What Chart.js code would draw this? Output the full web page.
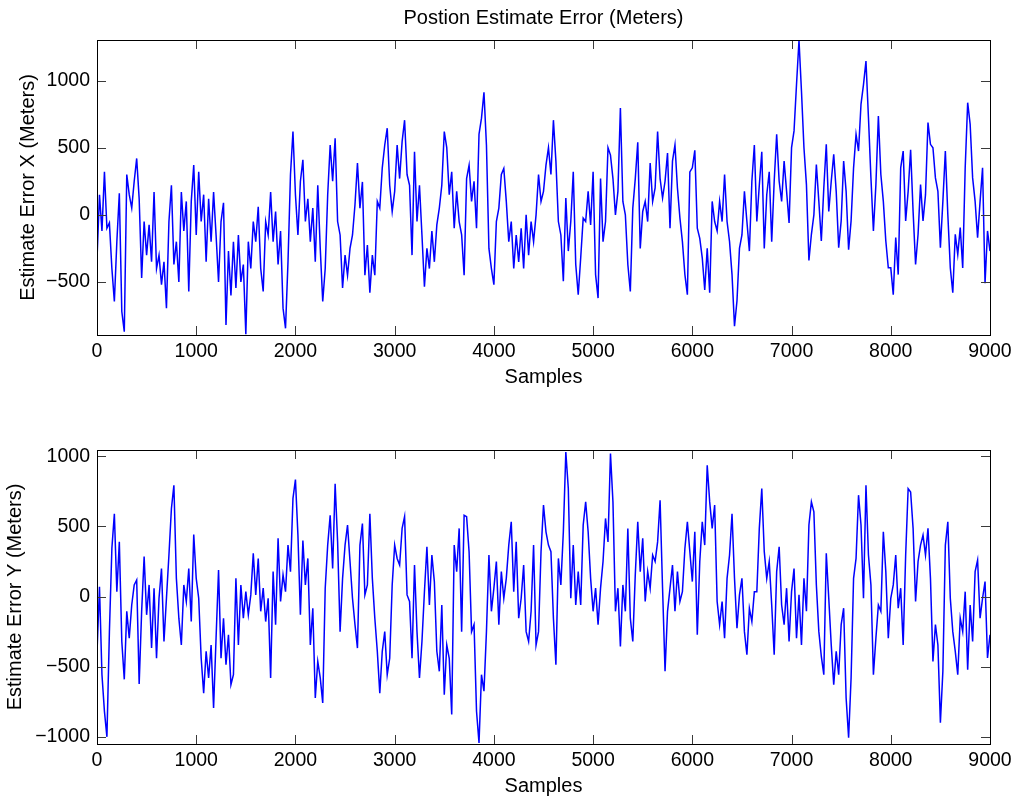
<!DOCTYPE html>
<html>
<head>
<meta charset="utf-8">
<title>Postion Estimate Error (Meters)</title>
<script src="https://cdn.jsdelivr.net/npm/chart.js@4.4.1/dist/chart.umd.min.js"></script>
<style>
  html, body { margin: 0; padding: 0; background: #ffffff; }
  #page { position: relative; width: 1019px; height: 796px; overflow: hidden; }
  .panel { position: absolute; left: 0; }
  #panelX { top: 0; }
  #panelY { top: 400px; }
</style>
</head>
<body>
<div id="page">
  <div class="panel" id="panelX"><canvas id="chartX" width="1019" height="400"></canvas></div>
  <div class="panel" id="panelY"><canvas id="chartY" width="1019" height="396"></canvas></div>
</div>
<script>
// Samples are recorded every SAMPLE_STEP steps along the run.
const SAMPLE_STEP = 25;
const sampleTicks = [0, 1000, 2000, 3000, 4000, 5000, 6000, 7000, 8000, 9000];
const errXTicks = [-500, 0, 500, 1000];
const errYTicks = [-1000, -500, 0, 500, 1000];

// Position estimate error along X (meters), one value per SAMPLE_STEP samples.
const errX = [
  -330, 150, -120, 320, -100, -60, -400, -645, -200, 160,
  -720, -870, 300, 150, 50, 250, 420, 120, -470, -50,
  -300, -75, -350, 170, -400, -300, -520, -350, -695, -50,
  220, -370, -200, -500, 170, -120, 100, -570, 100, 370,
  -150, 320, -50, 150, -350, 120, -200, 170, -150, -500,
  -50, 90, -820, -270, -600, -200, -545, -150, -500, -370,
  -890, -200, -400, -50, -200, 60, -400, -570, -50, -150,
  170, -200, 25, -370, -120, -695, -845, -350, 300, 620,
  150, -150, 250, 410, -50, 120, -200, 50, -350, 220, -250, -645, -400,
  150, 520, 250, 570, -50, -150, -545, -300, -450, -250,
  -150, 75, 385, 50, 245, -450, -225, -580, -300, -450,
  100, 50, 350, 520, 645, 220, 25,
  175, 520, 270, 545, 705, 300, 220, -300, 470, -50,
  220, -150, -535, -250, -400, -120, -350, -75, 50, 220,
  620, 500, 150, 320, -100, 175, -50, -150, -450, 270,
  370, 100, 250, -100, 600, 720, 913, 520, -250, -400,
  -520, -50, 50, 300, 345, 100, -200, -50, -400, -150,
  -350, -100, -400, 0, -300, -50, -200, 0, 300, 100,
  175, 370, 500,
  300, 705, 400, -50, -150, -495, 125, -270, -50, 320,
  -370, -595, -320, -25, -50, 175, -75,
  320, -445, -620, 270, -200, -50, 500, 445, 270, 0,
  175, 795, 100, 0, -370, -570, 50, 270, 540, -250,
  25, 100, -50, 385, 100, 200, 620, 270, 125, 250,
  460, -100, 400, 520, 200, -25, -200, -445, -595, 320,
  350, 480, -100, -175, -320, -560, -250, -580, 100, -50,
  -120, 100, -50, 300, -50, -200, -445, -830, -640, -250,
  -150, 175, -50, -270, 250, 520, -50, 220, 470, -250,
  150, 320, -200, 250,
  600, 250, 100, 400, 175, -60,
  500, 625, 970, 1300, 920, 500, 225, -340, -145, 0,
  375, 100, -195, 200, 525, 25, 250, 450, 175, -245,
  -45, 400, 175, -260, -45, 350, 600, 475, 825, 970,
  1145, 725, 275, -120, 225, 735, 300, 100, -195, -395,
  -395, -595, -170, -445, 350, 475, -45, 175, 485, 25,
  -370, -145, 225, -45, 150, 687, 525, 500, 275, 175,
  -245, 100, 475, 0, -395, -580, -145, -295, -95, -395,
  350, 835, 675, 275, 100, -170, 100, 350, -510, -120,
  -270
];

// Position estimate error along Y (meters), one value per SAMPLE_STEP samples.
const errY = [
  -400, 70, -557, -818, -1000, -250, 345, 590, 35, 390,
  -320, -590, -105, -296, -60, 83, 118, -623, -105, 285,
  -130, 83, -367, 60, -440, -12, 200, -320, -12, 296,
  628, 794, 130, -154, -345, 83, -35, 200, -178, 443,
  130, -12, -440, -688, -390, -580, -345, -794, -296, 190,
  -440, -154, -485, -272, -628, -557, 130, -345, 83, -154,
  35, -130, 12, 308, 12, 272, -105, 60, -178, -12,
  -580, 178, -200, 415, -35, 155, 35, 367, 178, 700,
  834, 440, -130, 400, 83, 272, -345, -83, -723, -462, -580, -758, 60,
  367, 580, 200, 805, 390, -250, 130, 367, 510, 250,
  -12, -200, -367, 367, 520, 12, 83, 590, 130, -154,
  -390, -688, -390, -250, -557, -440, 83,
  367, 272, 225, 486, 570, 12, -35, -440, 225, -250,
  -580, -320, 35, 355, -60, 296, 107, -390, -533, -60,
  -700, -345, -440, -840, 367, 178, 486, -250, 580, 570,
  320, -250, -200, -818, -1043, -557, -675, -250, 296, -105,
  60, 250, -200, 178, -12, 130, 367, 533, 35, 390,
  -154, -12, 225, -250, -320, -105, 367, -345, -250, 320,
  652, 462, 367,
  320, -154, -486, 272, 83, 462, 1030, 770, -12, 367,
  -60, 178, -60, 510, 675, 462, 130,
  -105, 60, -200, 60, 250, 557, 390, 1020, 675, -105,
  60, -355, 83, -105, 486, -154, -320, 155, 533, 178,
  415, -35, 178, 60, 296, 250, 390, 687, 60, -533,
  -105, 60, 225, -105, 178, -35, 35, 343, 533, 320,
  107, 462, -272, 250, 533, 367, 936, 675, 486, 652,
  -35, -200, -35, -296, 130, 296, 590, 130, -225, 12,
  130, -250, -415, -83, -178, 35, 35, 486, 770, 320,
  130, 250, -60, -415,
  178, 355, -60, -200, 60, -320,
  35, 200, -296, 12, -345, 130, -105, 510, 675, 604,
  83, -250, -427, -557, 308, -12, -345, -628, -390, -557,
  -200, -83, -723, -1007, -580, 130, 272, 723, 510, -12,
  794, 296, 83, -557, -296, -60, -105, 462, 178, -296,
  -12, 83, 296, -83, 60, -345, 296, 770, 746, 486,
  -35, 250, 367, 438, 296, 486, 130, -462, -200, -345,
  -900, -533, 367, 533, -12, -250, -390, -557, -154, -250,
  35, -521, -60, -320, 178, 260, -154, -12, 107, -438,
  -272
];

Chart.defaults.font.family = "'Liberation Sans', Arial, Helvetica, sans-serif";
Chart.defaults.color = '#000000';

const FONT_TICK = { size: 19.5, lineHeight: 1 };
const FONT_LABEL = { size: 20, lineHeight: 1 };

function signed(v) {
  return v < 0 ? '\u2212' + Math.abs(v) : String(v);
}

// Boxed axes with tick marks pointing into the plot on all four sides.
const boxAxes = {
  id: 'boxAxes',
  afterDatasetsDraw(chart) {
    const { ctx, chartArea: a, scales } = chart;
    const len = 9;
    ctx.save();
    ctx.lineWidth = 1;
    ctx.strokeStyle = '#3a3a3a';
    ctx.beginPath();
    scales.x.ticks.forEach(t => {
      const px = Math.round(scales.x.getPixelForValue(t.value)) + 0.5;
      ctx.moveTo(px, a.bottom); ctx.lineTo(px, a.bottom - len);
      ctx.moveTo(px, a.top); ctx.lineTo(px, a.top + len);
    });
    scales.y.ticks.forEach(t => {
      const py = Math.round(scales.y.getPixelForValue(t.value)) + 0.5;
      ctx.moveTo(a.left, py); ctx.lineTo(a.left + len, py);
      ctx.moveTo(a.right, py); ctx.lineTo(a.right - len, py);
    });
    ctx.stroke();
    ctx.strokeStyle = '#000000';
    ctx.strokeRect(Math.round(a.left) + 0.5, Math.round(a.top) + 0.5,
      Math.round(a.right - a.left), Math.round(a.bottom - a.top));
    ctx.restore();
  }
};

function buildPanel(canvas, values, p) {
  const points = values.map((v, i) => ({ x: i * SAMPLE_STEP, y: v }));
  return new Chart(canvas, {
    type: 'line',
    data: {
      datasets: [{
        data: points,
        borderColor: '#0000ff',
        borderWidth: 1.5,
        pointRadius: 0,
        tension: 0,
        fill: false
      }]
    },
    options: {
      responsive: false,
      animation: false,
      devicePixelRatio: 1,
      events: [],
      layout: { padding: { top: p.padTop, right: 29, bottom: 0, left: 0 } },
      plugins: {
        legend: { display: false },
        tooltip: { enabled: false },
        title: p.title ? {
          display: true,
          text: p.title,
          color: '#000000',
          fullSize: false,
          font: { size: 20, weight: 'normal', lineHeight: 1.2 },
          padding: { top: 6, bottom: 10 }
        } : { display: false }
      },
      scales: {
        x: {
          type: 'linear',
          min: 0,
          max: 9000,
          grid: { display: false, drawTicks: false },
          border: { display: false },
          afterBuildTicks: s => { s.ticks = sampleTicks.map(v => ({ value: v })); },
          afterFit: s => { s.height = p.xAxisHeight; },
          ticks: {
            autoSkip: false,
            maxRotation: 0,
            padding: 7,
            font: FONT_TICK,
            color: '#000000',
            callback: v => signed(v)
          },
          title: {
            display: true,
            text: 'Samples',
            color: '#000000',
            font: FONT_LABEL,
            padding: { top: 0, bottom: p.xTitlePad }
          }
        },
        y: {
          type: 'linear',
          min: p.yMin,
          max: p.yMax,
          grid: { display: false, drawTicks: false },
          border: { display: false },
          afterBuildTicks: s => { s.ticks = p.yTicks.map(v => ({ value: v })); },
          afterFit: s => { s.width = 97; },
          ticks: {
            autoSkip: false,
            padding: 7,
            font: FONT_TICK,
            color: '#000000',
            callback: v => signed(v)
          },
          title: {
            display: true,
            text: p.yTitle,
            color: '#000000',
            font: FONT_LABEL,
            padding: { top: p.yTitlePad, bottom: 0 }
          }
        }
      }
    },
    plugins: [boxAxes]
  });
}

buildPanel(document.getElementById('chartX'), errX, {
  title: 'Postion Estimate Error (Meters)',
  padTop: 0,
  xAxisHeight: 65,
  xTitlePad: 13,
  yMin: -895,
  yMax: 1302,
  yTicks: errXTicks,
  yTitle: 'Estimate Error X (Meters)',
  yTitlePad: 18.5
});

buildPanel(document.getElementById('chartY'), errY, {
  title: null,
  padTop: 50,
  xAxisHeight: 52,
  xTitlePad: 0,
  yMin: -1051,
  yMax: 1045,
  yTicks: errYTicks,
  yTitle: 'Estimate Error Y (Meters)',
  yTitlePad: 5
});
</script>
</body>
</html>
